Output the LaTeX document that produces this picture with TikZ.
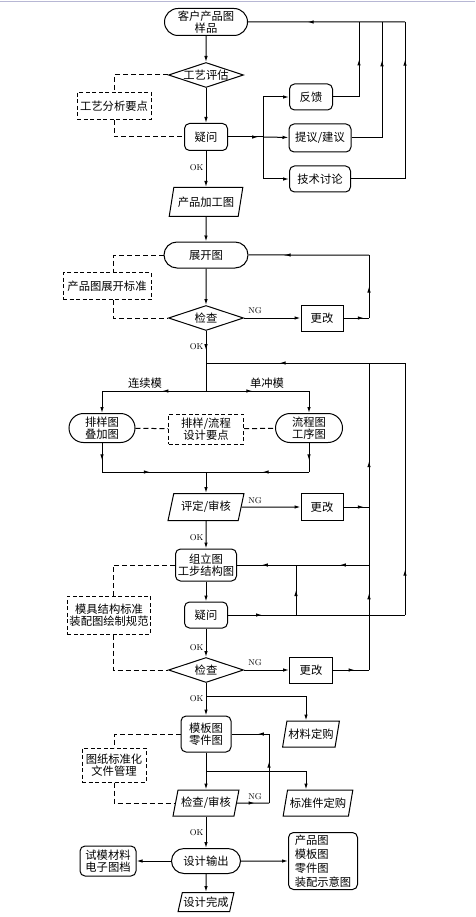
\documentclass[tikz,border=0pt]{standalone}
\usepackage{fontspec}
\newfontfamily\cjk{Noto Sans CJK SC}
\usepackage{tikz}
\usetikzlibrary{arrows.meta,shapes.geometric,shapes.misc,decorations.markings}

\begin{document}
\begin{tikzpicture}[x=1pt,y=-1pt,>={Latex[length=6pt,width=3.5pt]},line width=1pt,
  every node/.style={font=\cjk\fontsize{11.3}{12.5}\selectfont, align=center},
  term/.style={draw, rounded rectangle, inner xsep=-4pt, inner ysep=1pt},
  proc/.style={draw, rectangle, rounded corners=5pt, inner sep=2pt},
  fixbox/.style={draw, rectangle, inner sep=2pt, minimum width=42pt, minimum height=26pt},
  decide/.style={draw, diamond, aspect=3, inner xsep=-3pt, inner ysep=0pt, minimum width=75pt, minimum height=25pt},
  io/.style={draw, trapezium, trapezium left angle=72, trapezium right angle=108, trapezium stretches=true, inner xsep=0pt, inner ysep=1pt},
  note/.style={draw, rectangle, dash pattern=on 4pt off 2.5pt, inner sep=2pt},
  dashline/.style={dash pattern=on 5pt off 3pt},
  midarrow/.style={postaction={decorate,decoration={markings,mark=at position #1 with {\arrow{>}}}}},
  oklabel/.style={font=\fontsize{8.5}{10}\selectfont, left, inner sep=2pt},
  nglabel/.style={font=\fontsize{8.5}{10}\selectfont, inner sep=1pt}]
  \useasboundingbox (0,0) rectangle (475,917);
  \draw[blue!25!gray!45, line width=1.2pt] (0,1.5) -- (475,1.5);

  % Blocks
  \node[term, minimum width=75pt, minimum height=27pt] (cust) at (206,22) {客户产品图\\样品};
  \node[decide] (eval) at (206,75) {工艺评估};
  \node[note, minimum width=74pt, minimum height=27pt] (tip1) at (114,106) {工艺分析要点};
  \node[proc, minimum width=43pt, minimum height=27pt] (ask1) at (206,137) {疑问};
  \node[proc, minimum width=43pt, minimum height=26pt] (back) at (311,97) {反馈};
  \node[proc, minimum width=62pt, minimum height=28pt] (prop) at (320,138) {提议/建议};
  \node[proc, minimum width=61pt, minimum height=26pt] (talk) at (320,179) {技术讨论};
  \node[io, minimum width=74pt, minimum height=29pt] (part) at (206,202) {产品加工图};
  \node[term, minimum width=76pt, minimum height=26pt] (flat) at (206,255) {展开图};
  \node[note, minimum width=88pt, minimum height=27pt] (tip2) at (107,286) {产品图展开标准};
  \node[decide] (chk1) at (206,318) {检查};
  \node[fixbox] (fix1) at (322,318) {更改};
  \node[term, minimum width=58pt, minimum height=29pt] (strip) at (102,428) {排样图\\叠加图};
  \node[note, minimum width=75pt, minimum height=30pt] (tip3) at (206,429) {排样/流程\\设计要点};
  \node[term, minimum width=59pt, minimum height=29pt] (seq) at (309,428) {流程图\\工序图};
  \node[io, minimum width=76pt, minimum height=27pt] (rev1) at (206,507) {评定/审核};
  \node[fixbox, minimum height=27pt] (fix2) at (322,507) {更改};
  \node[proc, minimum width=61pt, minimum height=32pt] (asm) at (206,565) {组立图\\工步结构图};
  \node[note, minimum width=83pt, minimum height=38pt] (tip4) at (109,615) {模具结构标准\\装配图绘制规范};
  \node[proc, minimum width=43pt, minimum height=26pt] (ask2) at (206,615) {疑问};
  \node[decide] (chk2) at (206,670) {检查};
  \node[fixbox, minimum width=43pt] (fix3) at (311,670) {更改};
  \node[proc, minimum width=50pt, minimum height=36pt] (tpl) at (206,734) {模板图\\零件图};
  \node[io, minimum width=57pt, minimum height=26pt] (mat) at (311,734) {材料定购};
  \node[note, minimum width=64pt, minimum height=34pt] (tip5) at (114,765) {图纸标准化\\文件管理};
  \node[io, minimum width=66pt, minimum height=26pt] (rev2) at (206,803) {检查/审核};
  \node[io, minimum width=70pt, minimum height=26pt] (buy) at (318,803) {标准件定购};
  \node[term, minimum width=61pt, minimum height=25pt] (out) at (206,861) {设计输出};
  \node[proc, minimum width=56pt, minimum height=30pt] (trial) at (108,861) {试模材料\\电子图档};
  \node[proc, minimum width=69pt, minimum height=57pt, align=left, font=\cjk\fontsize{11.3}{14}\selectfont] (docs) at (323,861) {产品图\\模板图\\零件图\\装配示意图};
  \node[io, minimum width=56pt, minimum height=19pt] (done) at (206,902) {设计完成};

  % Labels
  \node[oklabel] (ok1) at (206,168) {OK};
  \node[oklabel] (ok2) at (206,347) {OK};
  \node[oklabel] (ok3) at (206,538) {OK};
  \node[oklabel] (ok4) at (206,648) {OK};
  \node[oklabel] (ok5) at (206,699) {OK};
  \node[oklabel] (ok6) at (206,833) {OK};
  \node[nglabel] (ng1) at (255,311) {NG};
  \node[nglabel] (ng2) at (255,501) {NG};
  \node[nglabel] (ng3) at (255,663) {NG};
  \node[nglabel] (ng4) at (255,797) {NG};
  \node (cont) at (145,383) {连续模};
  \node (single) at (267,383) {单冲模};

  % Junctions
  \coordinate (f0) at (263,137);  \coordinate (f1) at (263,97);  \coordinate (f2) at (263,179);
  \coordinate (u1) at (359,97);   \coordinate (u2) at (382,138); \coordinate (u3) at (405,179);
  \coordinate (t1) at (359,22);   \coordinate (t2) at (382,22);  \coordinate (t3) at (405,22);
  \coordinate (m1) at (369,318);  \coordinate (m0) at (369,255);
  \coordinate (j1) at (206,363);  \coordinate (j2) at (206,391);
  \coordinate (bl) at (102,391);  \coordinate (br) at (309,391);
  \coordinate (ml) at (102,472);  \coordinate (mr) at (309,472);  \coordinate (j3) at (206,472);
  \coordinate (k1) at (405,363);  \coordinate (k2) at (369,363);
  \coordinate (m2) at (369,507);
  \coordinate (a1) at (296,565);  \coordinate (a2) at (369,565);
  \coordinate (q1) at (296,615);  \coordinate (q2) at (405,615);
  \coordinate (m3) at (369,670);
  \coordinate (j4) at (206,696);  \coordinate (c4) at (306,696);
  \coordinate (j5) at (206,771);  \coordinate (c5) at (306,771);
  \coordinate (n1) at (269,803);  \coordinate (n2) at (269,734);
  \coordinate (d2) at (113,255);  \coordinate (d4) at (113,565);

  % Main flow
  \draw[->] (cust) -- (eval);
  \draw[->] (eval) -- (ask1);
  \draw[->] (ask1) -- (part);
  \draw[->] (part) -- (flat);
  \draw[->] (flat) -- (chk1);
  \draw[midarrow=0.6] (chk1) -- (j1);
  \draw (j1) -- (j2);
  \draw[midarrow=0.42] (j2) -- (bl);
  \draw[->] (bl) -- (strip);
  \draw[midarrow=0.45] (j2) -- (br);
  \draw[->] (br) -- (seq);
  \draw[midarrow=0.6] (strip) -- (ml);
  \draw[midarrow=0.46] (ml) -- (j3);
  \draw[midarrow=0.6] (seq) -- (mr);
  \draw[midarrow=0.45] (mr) -- (j3);
  \draw[->] (j3) -- (rev1);
  \draw[->] (rev1) -- (asm);
  \draw[->] (asm) -- (ask2);
  \draw[->] (ask2) -- (chk2);
  \draw[->] (chk2) -- (tpl);
  \draw[->] (tpl) -- (rev2);
  \draw[->] (rev2) -- (out);
  \draw[->] (out) -- (done);
  \draw[->] (out) -- (trial);
  \draw[->] (out) -- (docs);
  \draw (j4) -- (c4);
  \draw[->] (c4) -- (c4 |- mat.north);
  \draw (j5) -- (c5);
  \draw[->] (c5) -- (c5 |- buy.north);

  % Feedback loops
  \draw[midarrow=0.86] (ask1) -- (f0);
  \draw (f1) -- (f2);
  \draw[->] (f1) -- (back);
  \draw[->] (f0) -- (prop);
  \draw[->] (f2) -- (talk);
  \draw (back) -- (u1);
  \draw[midarrow=0.5] (u1) -- (t1);
  \draw (prop) -- (u2);
  \draw[midarrow=0.67] (u2) -- (t2);
  \draw (talk) -- (u3);
  \draw[midarrow=0.76] (u3) -- (t3);
  \draw[midarrow=0.62] (t3) -- (cust);
  \draw[->] (chk1) -- (fix1);
  \draw[midarrow=0.8] (fix1) -- (m1);
  \draw[midarrow=0.5] (m1) -- (m0);
  \draw[midarrow=0.7] (m0) -- (flat);
  \draw[->] (rev1) -- (fix2);
  \draw[midarrow=0.8] (fix2) -- (m2);
  \draw[midarrow=0.63] (k1) -- (j1);
  \draw[->] (chk2) -- (fix3);
  \draw[midarrow=0.6] (fix3) -- (m3);
  \draw[midarrow=0.25, midarrow=0.68] (m3) -- (k2);
  \draw[midarrow=0.4] (a2) -- (a1);
  \draw[midarrow=0.58] (a1) -- (asm);
  \draw[midarrow=0.5] (ask2) -- (q1);
  \draw (q1) -- (q2);
  \draw[midarrow=0.5] (q1) -- (a1);
  \draw[midarrow=0.18] (q2) -- (k1);
  \draw[midarrow=0.55] (rev2) -- (n1);
  \draw[midarrow=0.6] (n1) -- (n2);
  \draw[midarrow=0.3] (n2) -- (tpl);

  % Standards (dashed)
  \draw[dashline] (eval) -| (tip1);
  \draw[dashline] (tip1) |- (ask1);
  \draw[dashline] (flat) -- (d2) -- (d2 |- tip2.north);
  \draw[dashline] (d2 |- tip2.south) |- (chk1);
  \draw[dashline] (strip) -- (tip3);
  \draw[dashline] (tip3) -- (seq);
  \draw[dashline] (asm) -- (d4) -- (d4 |- tip4.north);
  \draw[dashline] (d4 |- tip4.south) |- (chk2);
  \draw[dashline] (tpl) -| (tip5);
  \draw[dashline] (tip5) |- (rev2);
\end{tikzpicture}
\end{document}
